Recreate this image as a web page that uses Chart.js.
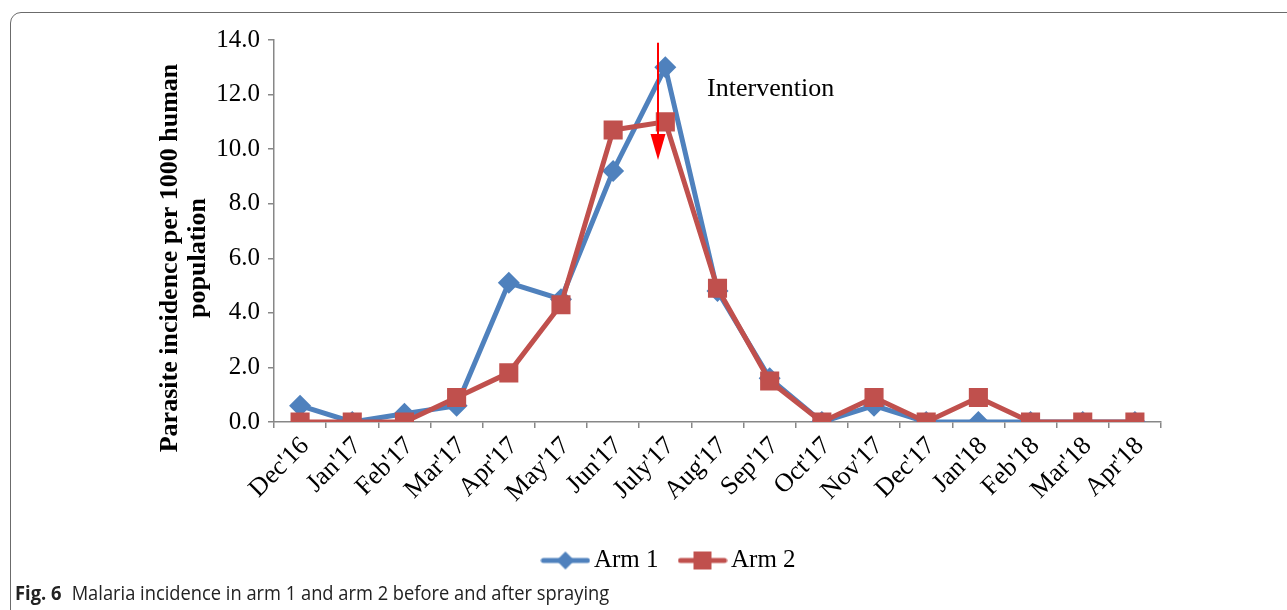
<!DOCTYPE html>
<html>
<head>
<meta charset="utf-8">
<script src="https://cdn.jsdelivr.net/npm/chart.js@4.4.1/dist/chart.umd.min.js"></script>
<style>
  html, body { margin: 0; padding: 0; background: #fff; }
  body { width: 1287px; height: 610px; position: relative; overflow: hidden; }
  #frame {
    position: absolute; left: 10px; top: 12px; width: 1300px; height: 640px;
    border: 1px solid #6b6b6b; border-radius: 11px; box-sizing: border-box;
  }
  #chartWrap { position: absolute; left: 0; top: 0; width: 1287px; height: 610px; }
  #caption {
    position: absolute; left: 15px; top: 579px; white-space: nowrap;
    font-family: "Open Sans", "Noto Sans", sans-serif; font-size: 20px; color: #222;
    transform-origin: 0 0; transform: scaleX(0.915);
  }
  #caption b { font-weight: 700; margin-right: 6px; }
</style>
</head>
<body>
<div id="frame"></div>
<div id="chartWrap"><canvas id="c" width="1287" height="610"></canvas></div>
<div id="caption"><b>Fig. 6</b> Malaria incidence in arm 1 and arm 2 before and after spraying</div>
<script>
// Monthly survey periods
const months = ["Dec'16", "Jan'17", "Feb'17", "Mar'17", "Apr'17", "May'17", "Jun'17", "July'17",
  "Aug'17", "Sep'17", "Oct'17", "Nov'17", "Dec'17", "Jan'18", "Feb'18", "Mar'18", "Apr'18"];

// Parasite incidence per 1000 population
const arm1 = [0.6, 0.0, 0.3, 0.6, 5.1, 4.5, 9.2, 13.0, 4.8, 1.6, 0.0, 0.6, 0.0, 0.0, 0.0, 0.0, 0.0];
const arm2 = [0.0, 0.0, 0.0, 0.9, 1.8, 4.3, 10.7, 11.0, 4.9, 1.5, 0.0, 0.9, 0.0, 0.9, 0.0, 0.0, 0.0];

const yTicks = [0, 2, 4, 6, 8, 10, 12, 14];
const yTitle = ["Parasite incidence per 1000 human", "population"];

// Spraying marker: category position and value range of the arrow
const interventionAt = 6.86;
const arrowFrom = 13.9;
const arrowTo = 9.6;
const interventionLabel = "Intervention";

const BLUE = "#4F81BD";
const RED = "#C0504D";
const AXIS = "#878787";
const SERIF = "'Liberation Serif', 'Times New Roman', serif";

// Legend swatch: a short line with the series marker in its middle
function swatch(color, shape) {
  const cv = document.createElement("canvas");
  cv.width = 50; cv.height = 20;
  const g = cv.getContext("2d");
  g.strokeStyle = color; g.lineWidth = 5; g.lineCap = "round";
  g.beginPath(); g.moveTo(3, 10); g.lineTo(47, 10); g.stroke();
  g.fillStyle = color;
  g.beginPath();
  if (shape === "diamond") {
    g.moveTo(25, 1); g.lineTo(34, 10); g.lineTo(25, 19); g.lineTo(16, 10);
  } else {
    g.rect(16, 1, 18, 18);
  }
  g.closePath(); g.fill();
  return cv;
}
const swatches = [swatch(BLUE, "diamond"), swatch(RED, "square")];

// Rotated two-line value-axis title, set a little below the plot's middle
const yTitlePlugin = {
  id: "yAxisTitle",
  afterDraw(chart) {
    const { ctx, chartArea } = chart;
    const cy = (chartArea.top + chartArea.bottom) / 2 + 27;
    ctx.save();
    ctx.fillStyle = "#000";
    ctx.font = "bold 26px " + SERIF;
    ctx.textAlign = "center";
    ctx.textBaseline = "middle";
    yTitle.forEach((line, i) => {
      ctx.save();
      ctx.translate(chartArea.left - 104 + i * 28, cy);
      ctx.rotate(-Math.PI / 2);
      ctx.fillText(line, 0, 0);
      ctx.restore();
    });
    ctx.restore();
  }
};

const arrowPlugin = {
  id: "interventionArrow",
  afterDatasetsDraw(chart) {
    const { ctx, scales: { x, y } } = chart;
    const px = x.getPixelForValue(interventionAt);
    const top = y.getPixelForValue(arrowFrom);
    const tip = y.getPixelForValue(arrowTo);
    ctx.save();
    ctx.strokeStyle = "#FF0000";
    ctx.fillStyle = "#FF0000";
    ctx.lineWidth = 2;
    ctx.beginPath(); ctx.moveTo(px, top); ctx.lineTo(px, tip - 20); ctx.stroke();
    ctx.beginPath();
    ctx.moveTo(px - 7.5, tip - 26); ctx.lineTo(px + 7.5, tip - 26); ctx.lineTo(px, tip);
    ctx.closePath(); ctx.fill();
    ctx.fillStyle = "#000";
    ctx.font = "26px " + SERIF;
    ctx.textBaseline = "middle";
    ctx.fillText(interventionLabel, x.getPixelForValue(7.8), y.getPixelForValue(12.2));
    ctx.restore();
  }
};

new Chart(document.getElementById("c"), {
  type: "line",
  data: {
    labels: months,
    datasets: [
      {
        label: "Arm 1", data: arm1, borderColor: BLUE, backgroundColor: BLUE,
        borderWidth: 5, pointStyle: "rectRot", pointRadius: 11, pointHoverRadius: 11,
        pointBorderWidth: 0, tension: 0, order: 2
      },
      {
        label: "Arm 2", data: arm2, borderColor: RED, backgroundColor: RED,
        borderWidth: 5, pointStyle: "rect", pointRadius: 13.5, pointHoverRadius: 13.5,
        pointBorderWidth: 0, tension: 0, order: 1
      }
    ]
  },
  options: {
    responsive: false,
    animation: false,
    layout: { padding: { left: 184, top: 40, right: 126, bottom: 27 } },
    plugins: {
      tooltip: { enabled: false },
      legend: {
        position: "bottom",
        labels: {
          font: { family: SERIF, size: 25 },
          color: "#000",
          usePointStyle: true,
          pointStyleWidth: 32,
          padding: 28,
          generateLabels(chart) {
            return chart.data.datasets.map((ds, i) => ({
              text: ds.label, pointStyle: swatches[i], fillStyle: ds.borderColor,
              strokeStyle: ds.borderColor, lineWidth: 0, hidden: false, datasetIndex: i
            }));
          }
        }
      }
    },
    scales: {
      x: {
        offset: true,
        afterFit(s) { s.height = 98; },
        grid: { display: true, drawOnChartArea: false, offset: true, tickLength: 6, color: AXIS, lineWidth: 1.5 },
        border: { color: AXIS, width: 1.5 },
        ticks: {
          color: "#000", font: { family: SERIF, size: 26 },
          minRotation: 45, maxRotation: 45, autoSkip: false, padding: 3, labelOffset: 5
        }
      },
      y: {
        min: 0, max: 14,
        afterFit(s) { s.width = 90; },
        afterBuildTicks(s) { s.ticks = yTicks.map(v => ({ value: v })); },
        grid: { display: true, drawOnChartArea: false, tickLength: 6, color: AXIS, lineWidth: 1.5 },
        border: { color: AXIS, width: 1.5 },
        ticks: {
          color: "#000", font: { family: SERIF, size: 25 }, padding: 8,
          callback: v => Number(v).toFixed(1)
        },
        title: { display: false }
      }
    }
  },
  plugins: [arrowPlugin, yTitlePlugin]
});
</script>
</body>
</html>
